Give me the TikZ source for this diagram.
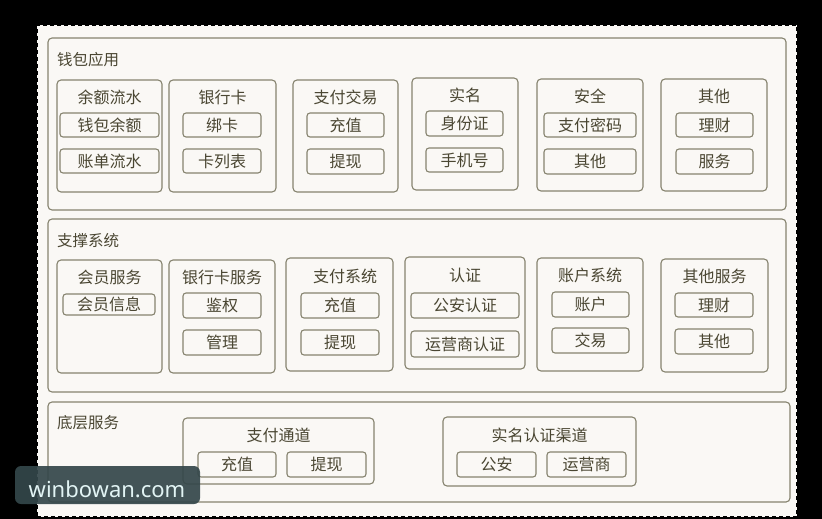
\documentclass[tikz,border=0pt]{standalone}
\usepackage{fontspec}
\newfontfamily\cjk{Noto Sans CJK SC}
\newfontfamily\wmfont{Noto Sans}
\definecolor{bc}{HTML}{86836F}
\definecolor{tc}{HTML}{4A4632}
\definecolor{paper}{HTML}{FAF8F5}
\definecolor{wmbg}{HTML}{34474A}
\definecolor{wmtx}{HTML}{E2F4F4}
\tikzset{
  sect/.style={draw=bc, line width=1.1pt, rounded corners=4pt, inner sep=0pt, outer sep=0pt},
  grp/.style={draw=bc, line width=1.1pt, rounded corners=4pt, inner sep=0pt, outer sep=0pt},
  itm/.style={draw=bc, line width=1.1pt, rounded corners=3pt, inner sep=0pt, outer sep=0pt, text=tc, font=\cjk\fontsize{16}{18}\selectfont},
  hdr/.style={text=tc, inner sep=0pt, font=\cjk\fontsize{16}{18}\selectfont},
  ttl/.style={text=tc, inner sep=0pt, anchor=west, font=\cjk\fontsize{15.5}{18}\selectfont},
}
% \bx{name}{style}{x1}{y1}{x2}{y2}{text}
\newcommand\bx[7]{\node[#2, minimum width={#5-#3}, minimum height={#6-#4}] (#1) at ({(#3+#5)/2},{(#4+#6)/2}) {#7};}
\begin{document}
\begin{tikzpicture}[x=1pt,y=-1pt]
\fill[black] (0,0) rectangle (822,519);
\useasboundingbox (0,0) rectangle (822,519);
\node[fill=paper, draw=black, line width=2pt, dash pattern=on 4pt off 3pt, minimum width=760, minimum height=492, inner sep=0pt, outer sep=0pt] (canvas) at (417,271) {};

% ---------- section 1 ----------
\bx{s1}{sect}{48}{38}{786}{210}{}
\node[ttl] (s1t) at (57,60) {钱包应用};
\bx{g1}{grp}{57}{80}{162}{192}{}
\node[hdr] (g1h) at (109.5,97) {余额流水};
\bx{g1a}{itm}{60}{113}{159}{137}{钱包余额}
\bx{g1b}{itm}{60}{149}{159}{173}{账单流水}
\bx{g2}{grp}{169}{80}{276}{192}{}
\node[hdr] (g2h) at (222.5,97) {银行卡};
\bx{g2a}{itm}{183}{113}{261}{137}{绑卡}
\bx{g2b}{itm}{183}{149}{261}{173}{卡列表}
\bx{g3}{grp}{293}{80}{398}{192}{}
\node[hdr] (g3h) at (345.5,97) {支付交易};
\bx{g3a}{itm}{307}{113}{384}{137}{充值}
\bx{g3b}{itm}{307}{149}{384}{174}{提现}
\bx{g4}{grp}{412}{78}{518}{190}{}
\node[hdr] (g4h) at (465,95) {实名};
\bx{g4a}{itm}{426}{111}{503}{136}{身份证}
\bx{g4b}{itm}{426}{148}{503}{172}{手机号}
\bx{g5}{grp}{537}{79}{643}{191}{}
\node[hdr] (g5h) at (590,96) {安全};
\bx{g5a}{itm}{544}{113}{636}{137}{支付密码}
\bx{g5b}{itm}{544}{149}{636}{174}{其他}
\bx{g6}{grp}{661}{79}{767}{191}{}
\node[hdr] (g6h) at (714,96) {其他};
\bx{g6a}{itm}{676}{113}{753}{137}{理财}
\bx{g6b}{itm}{676}{149}{753}{174}{服务}

% ---------- section 2 ----------
\bx{s2}{sect}{48}{219}{786}{392}{}
\node[ttl] (s2t) at (57,241) {支撑系统};
\bx{h1}{grp}{57}{260}{162}{373}{}
\node[hdr] (h1h) at (109.5,277) {会员服务};
\bx{h1a}{itm}{63}{294}{155}{315}{会员信息}
\bx{h2}{grp}{169}{260}{275}{373}{}
\node[hdr] (h2h) at (222,277) {银行卡服务};
\bx{h2a}{itm}{183}{293}{261}{318}{鉴权}
\bx{h2b}{itm}{183}{330}{261}{355}{管理}
\bx{h3}{grp}{286}{258}{393}{371}{}
\node[hdr] (h3h) at (345,276) {支付系统};
\bx{h3a}{itm}{301}{293}{379}{318}{充值}
\bx{h3b}{itm}{301}{330}{379}{355}{提现}
\bx{h4}{grp}{405}{257}{525}{369}{}
\node[hdr] (h4h) at (465,275) {认证};
\bx{h4a}{itm}{411}{293}{519}{318}{公安认证}
\bx{h4b}{itm}{411}{331}{519}{357}{运营商认证}
\bx{h5}{grp}{537}{258}{643}{371}{}
\node[hdr] (h5h) at (590,275) {账户系统};
\bx{h5a}{itm}{552}{292}{629}{317}{账户}
\bx{h5b}{itm}{552}{328}{629}{353}{交易}
\bx{h6}{grp}{661}{259}{768}{372}{}
\node[hdr] (h6h) at (714.5,276) {其他服务};
\bx{h6a}{itm}{675}{293}{753}{317}{理财}
\bx{h6b}{itm}{675}{329}{753}{354}{其他}

% ---------- section 3 ----------
\bx{s3}{sect}{48}{402}{790}{502}{}
\node[ttl] (s3t) at (57,423) {底层服务};
\bx{k1}{grp}{183}{418}{374}{484}{}
\node[hdr] (k1h) at (278.5,435) {支付通道};
\bx{k1a}{itm}{198}{452}{276}{477}{充值}
\bx{k1b}{itm}{287}{452}{366}{477}{提现}
\bx{k2}{grp}{443}{417}{636}{486}{}
\node[hdr] (k2h) at (539.5,435) {实名认证渠道};
\bx{k2a}{itm}{457}{452}{536}{477}{公安}
\bx{k2b}{itm}{547}{452}{626}{477}{运营商}

% ---------- watermark ----------
\node[fill=wmbg, fill opacity=0.92, rounded corners=6pt, minimum width=185, minimum height=38, inner sep=0pt] (wm) at (107.5,485) {};
\node[text=wmtx, inner sep=0pt, font=\wmfont\fontsize{22}{24}\selectfont] (wmt) at (107,489) {winbowan.com};
\end{tikzpicture}
\end{document}
